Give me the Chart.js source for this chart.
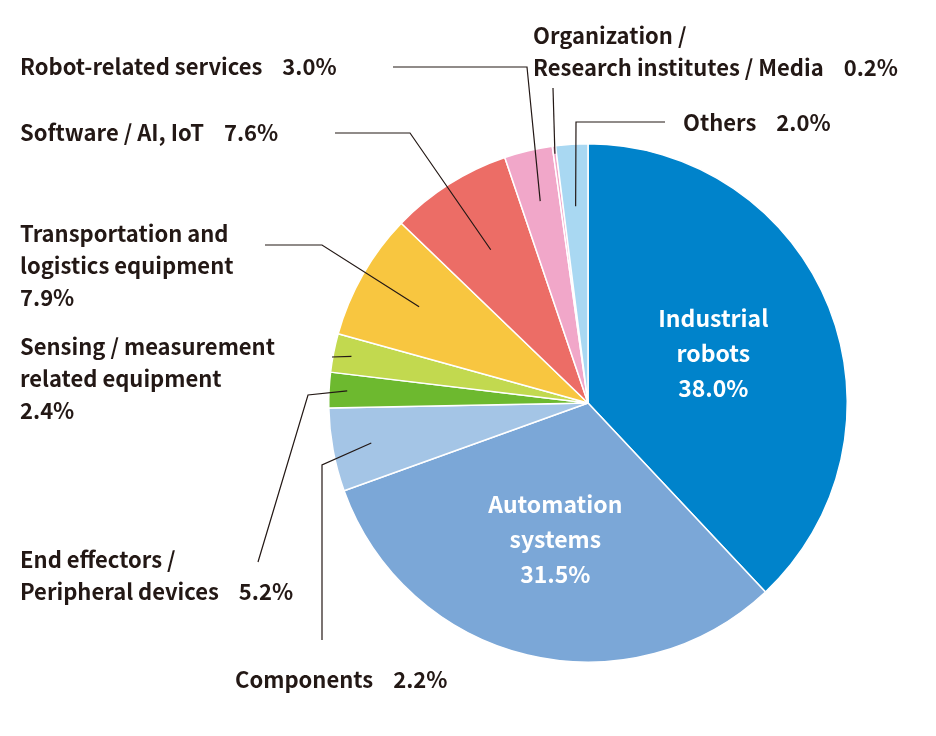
<!DOCTYPE html>
<html><head><meta charset="utf-8">
<script src="https://cdn.jsdelivr.net/npm/chart.js@4/dist/chart.umd.min.js"></script>
<style>html,body{margin:0;padding:0;background:#fff}</style></head>
<body><canvas id="c" width="936" height="736"></canvas>
<script>
const categories = ["Industrial robots","Automation systems","Components","End effectors / Peripheral devices","Sensing / measurement related equipment","Transportation and logistics equipment","Software / AI, IoT","Robot-related services","Organization / Research institutes / Media","Others"];
const values = [38.0,31.5,5.2,2.2,2.4,7.9,7.6,3.0,0.2,2.0];
const shownPct = ["38.0%","31.5%","2.2%","5.2%","2.4%","7.9%","7.6%","3.0%","0.2%","2.0%"];
const colors = ["#0083CB","#7BA7D7","#A4C5E6","#6DB92F","#C2D94F","#F8C640","#EC6D66","#F1A7C9","#F1A7C9","#A9D8F2"];
const FONT = '"Noto Sans CJK JP","Noto Sans",sans-serif';
// outer labels: lines of text, text anchor, leader path (elbow points), inner radius fraction
const outer = {
  2:{lines:[["Components","    2.2%"]],x:235,y:680,align:"left",path:[[322,640],[322,465]],rf:0.85},
  3:{lines:[["End effectors /"],["Peripheral devices","    5.2%"]],x:20,y:560,align:"left",path:[[258,562],[308,395]],rf:0.93},
  4:{lines:[["Sensing / measurement"],["related equipment"],["2.4%"]],x:20,y:347,align:"left",path:[[332,357]],rf:0.93},
  5:{lines:[["Transportation and"],["logistics equipment"],["7.9%"]],x:20,y:234,align:"left",path:[[265,245],[322,245]],rf:0.75},
  6:{lines:[["Software / AI, IoT","    7.6%"]],x:20,y:133,align:"left",path:[[335,133],[410,133]],rf:0.7},
  7:{lines:[["Robot-related services","    3.0%"]],x:20,y:67,align:"left",path:[[393,67],[527,67]],rf:0.8},
  8:{lines:[["Organization /"],["Research institutes / Media","    0.2%"]],x:533,y:36,align:"left",path:[[553,88]],rf:0.97},
  9:{lines:[["Others","    2.0%"]],x:683,y:123,align:"left",path:[[665,122],[576,122]],rf:0.76}
};
const labelPlugin = {
  id:'labels',
  afterDatasetsDraw(chart){
    const ctx = chart.ctx, meta = chart.getDatasetMeta(0);
    ctx.save();
    ctx.textBaseline='middle';
    meta.data.forEach((arc,i)=>{
      const p = arc.getProps(['x','y','startAngle','endAngle','outerRadius'],true);
      const mid=(p.startAngle+p.endAngle)/2;
      if(i<2){
        const rf=i===0?0.52:0.54;
        const cx=p.x+Math.cos(mid)*p.outerRadius*rf, cy=p.y+Math.sin(mid)*p.outerRadius*rf;
        const L = i===0?["Industrial","robots",shownPct[0]]:["Automation","systems",shownPct[1]];
        ctx.fillStyle='#fff'; ctx.font='bold 23px '+FONT; ctx.textAlign='center';
        L.forEach((t,k)=>ctx.fillText(t,cx,cy+(k-1)*35));
        return;
      }
      const o=outer[i];
      const ax=p.x+Math.cos(mid)*p.outerRadius*o.rf, ay=p.y+Math.sin(mid)*p.outerRadius*o.rf;
      ctx.strokeStyle='#231815'; ctx.lineWidth=1.2;
      ctx.beginPath(); ctx.moveTo(o.path[0][0],o.path[0][1]);
      o.path.slice(1).forEach(q=>ctx.lineTo(q[0],q[1]));
      ctx.lineTo(ax,ay); ctx.stroke();
      ctx.fillStyle='#231815'; ctx.font='bold 22px '+FONT; ctx.textAlign='left';
      o.lines.forEach((ln,k)=>ctx.fillText(ln.join(''),o.x,o.y+k*32));
    });
    ctx.restore();
  }
};
new Chart(document.getElementById('c'),{
  type:'pie',
  data:{labels:categories,datasets:[{data:values,backgroundColor:colors,borderColor:'#fff',borderWidth:1.5}]},
  options:{responsive:false,animation:false,
    layout:{padding:{left:328,right:88,top:143,bottom:73}},
    plugins:{legend:{display:false},tooltip:{enabled:false}}},
  plugins:[labelPlugin]
});
</script></body></html>
